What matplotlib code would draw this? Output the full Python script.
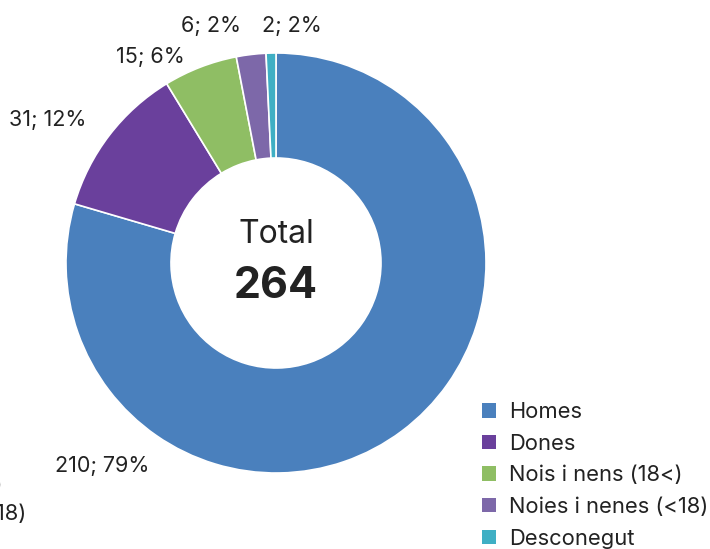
import matplotlib
matplotlib.use("Agg")
import matplotlib.pyplot as plt
from matplotlib.patches import Patch

plt.rcParams['font.family'] = ['Inter', 'DejaVu Sans']

categories = ["Homes", "Dones", "Nois i nens (18<)", "Noies i nenes (<18)", "Desconegut"]
values = [210, 31, 15, 6, 2]
percent_labels = ["79%", "12%", "6%", "2%", "2%"]
total = 264
colors = ["#4a80bd", "#6a409c", "#8fbe64", "#7d68a9", "#3fafc4"]

# label positions (in units of outer radius, relative to centre)
label_xy = [(-0.829, -0.967), (-1.088, 0.681), (-0.60, 0.981), (-0.31, 1.129), (0.076, 1.129)]

W, H = 710, 549
cx, cy, R = 276, 263, 210
fig = plt.figure(figsize=(W / 100, H / 100), dpi=100)
ax = fig.add_axes([0, 0, 1, 1])

wedges, _ = ax.pie(values, colors=colors, startangle=90, counterclock=False,
                   radius=1.0, wedgeprops=dict(width=0.5, edgecolor='white', linewidth=1.2))
ax.set_aspect('equal', adjustable='datalim')
ax.set_xlim(-cx / R, (W - cx) / R)
ax.set_ylim(-(H - cy) / R, cy / R)
ax.axis('off')

txtc = "#222222"
for v, p, (x, y) in zip(values, percent_labels, label_xy):
    ax.text(x, y, f"{v}; {p}", ha='center', va='center', fontsize=15.5, color=txtc)

ax.text(0, 0.135, "Total", ha='center', va='center', fontsize=23, color=txtc)
ax.text(0, -0.11, str(total), ha='center', va='center', fontsize=31, fontweight='bold', color=txtc)

handles = [Patch(facecolor=c, edgecolor='none') for c in colors]
leg = fig.legend(handles, categories, loc='upper left',
                 bbox_to_anchor=(482 / W, 1 - 402 / H), frameon=False,
                 fontsize=15.8, handlelength=0.64, handleheight=0.64,
                 handletextpad=0.58, labelspacing=0.53, borderaxespad=0, borderpad=0)
for t in leg.get_texts():
    t.set_color(txtc)

# clipped fragments of a second legend at the left edge
fig.text(2.5 / W, 1 - 485 / H, "Nois i nens (18<)", ha='right', va='center', fontsize=15.8, color=txtc)
fig.text(26 / W, 1 - 514 / H, "Noies i nenes (<18)", ha='right', va='center', fontsize=15.8, color=txtc)

fig.savefig("out.png", dpi=100)
